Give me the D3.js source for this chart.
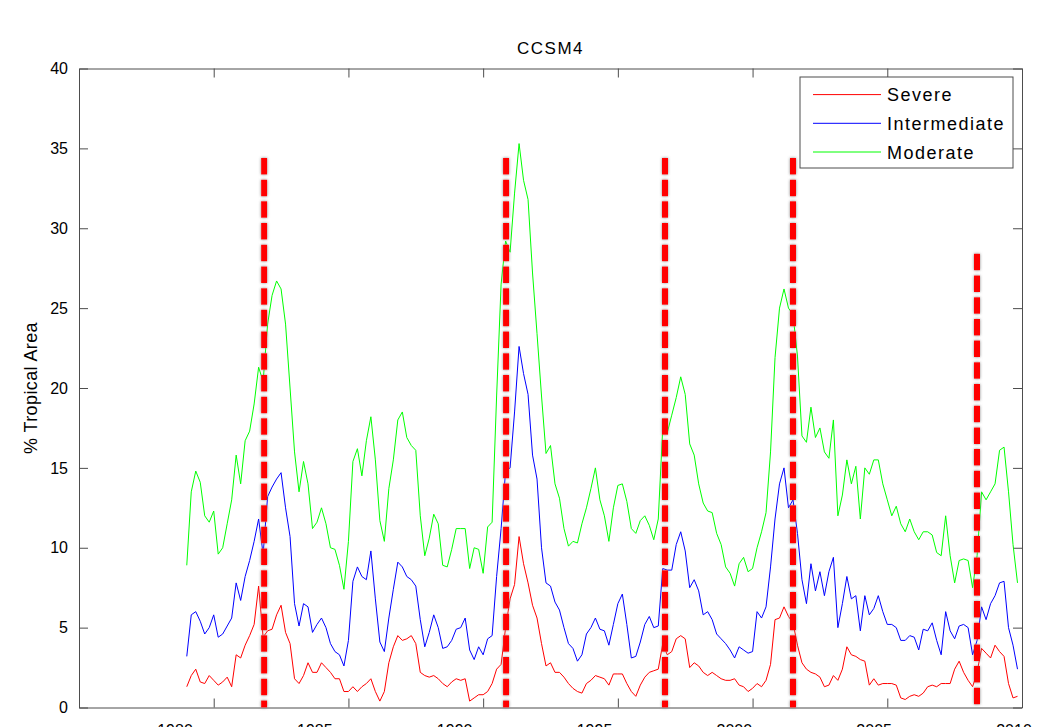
<!DOCTYPE html>
<html>
<head>
<meta charset="utf-8">
<script src="https://cdn.jsdelivr.net/npm/d3@7"></script>
<style>
  body { margin: 0; background: #fff; }
  svg { display: block; font-family: "Liberation Sans", Arial, sans-serif; }
</style>
</head>
<body>
<script>
// samples every 2 months starting Jan 1979
const startYear = 1979
const stepYear = 1 / 6

const severe = [
  1.3, 2.0, 2.4, 1.6, 1.5, 2.0, 1.7, 1.4, 1.6, 1.9,
  1.3, 3.3, 3.1, 3.9, 4.5, 5.2, 7.6, 4.4, 4.8, 4.9,
  5.8, 6.4, 4.7, 4.0, 1.8, 1.5, 2.0, 2.8, 2.2, 2.2,
  2.8, 2.5, 2.2, 1.8, 1.8, 1.0, 1.0, 1.3, 1.0, 1.3,
  1.5, 1.8, 1.0, 0.4, 1.0, 2.8, 3.8, 4.5, 4.2, 4.3,
  4.5, 4.0, 2.2, 2.0, 1.9, 2.0, 1.8, 1.5, 1.3, 1.6,
  1.8, 1.7, 1.8, 0.4, 0.6, 0.8, 0.8, 1.0, 1.5, 2.4,
  2.7, 5.0, 6.8, 7.7, 10.7, 9.0, 7.8, 6.4, 5.6, 4.0,
  2.6, 2.8, 2.2, 2.2, 1.9, 1.5, 1.2, 1.0, 0.9, 1.5,
  1.7, 2.0, 1.9, 1.8, 1.4, 2.1, 2.1, 2.1, 1.5, 1.0,
  0.7, 1.4, 1.9, 2.2, 2.3, 2.4, 4.0, 3.3, 3.5, 4.3,
  4.5, 4.3, 2.5, 2.8, 2.6, 2.2, 2.0, 2.2, 2.0, 1.8,
  1.7, 1.7, 1.8, 1.4, 1.3, 1.0, 1.2, 1.5, 1.3, 1.7,
  2.7, 5.5, 5.6, 6.3, 5.7, 5.3, 3.9, 2.8, 2.4, 2.2,
  2.1, 1.9, 1.3, 1.4, 2.0, 1.7, 2.4, 3.8, 3.3, 3.2,
  3.0, 2.9, 1.4, 1.8, 1.4, 1.5, 1.5, 1.5, 1.4, 0.6,
  0.5, 0.7, 0.8, 0.7, 0.9, 1.3, 1.4, 1.3, 1.5, 1.5,
  1.5, 2.4, 2.9, 2.2, 1.7, 1.3, 2.2, 3.7, 3.4, 3.1,
  3.9, 3.5, 3.2, 1.5, 0.6, 0.7
]

const intermediate = [
  3.2, 5.8, 6.0, 5.4, 4.6, 5.0, 5.8, 4.4, 4.6, 5.1,
  5.6, 7.8, 6.7, 8.2, 9.2, 10.4, 11.8, 9.6, 13.2, 13.8,
  14.3, 14.7, 12.5, 10.7, 6.5, 5.1, 6.5, 6.3, 4.7, 5.2,
  5.6, 5.0, 4.0, 3.5, 3.3, 2.6, 4.2, 7.9, 8.8, 8.2,
  8.0, 9.8, 6.8, 4.1, 3.5, 5.6, 7.4, 9.1, 8.8, 8.2,
  8.0, 7.6, 5.5, 3.8, 4.7, 5.8, 5.0, 3.7, 3.8, 4.2,
  4.9, 5.0, 5.6, 3.6, 3.0, 3.8, 3.3, 4.3, 4.5, 8.2,
  11.2, 14.8, 15.0, 18.5, 22.6, 20.9, 19.6, 15.8, 14.3, 10.0,
  7.8, 7.6, 6.6, 6.1, 5.0, 4.0, 3.7, 2.9, 3.3, 4.6,
  5.0, 5.6, 4.9, 4.8, 3.9, 5.2, 6.5, 7.1, 5.2, 3.1,
  3.2, 4.1, 5.2, 5.7, 5.0, 5.1, 8.7, 8.6, 8.6, 10.2,
  11.0, 9.8, 7.5, 8.0, 7.3, 5.8, 6.0, 5.5, 4.6, 4.3,
  4.0, 3.6, 3.1, 3.8, 3.6, 3.4, 3.5, 6.0, 5.6, 6.3,
  8.8, 11.8, 14.0, 15.0, 12.5, 13.0, 10.9, 8.0, 6.5, 9.0,
  7.3, 8.5, 7.0, 8.5, 9.4, 5.0, 6.5, 8.2, 6.8, 7.0,
  4.8, 7.0, 5.8, 6.2, 7.0, 6.0, 5.2, 5.2, 5.0, 4.2,
  4.2, 4.5, 4.4, 3.6, 4.9, 4.8, 5.3, 4.2, 3.3, 6.0,
  4.8, 4.3, 5.1, 5.2, 5.0, 3.3, 4.2, 6.3, 5.5, 6.5,
  7.0, 7.8, 7.9, 5.0, 3.9, 2.4
]

const moderate = [
  8.9, 13.5, 14.8, 14.1, 12.0, 11.6, 12.3, 9.6, 10.0, 11.5,
  13.0, 15.8, 14.0, 16.7, 17.3, 19.0, 21.3, 20.4, 24.0, 25.8,
  26.7, 26.2, 24.0, 20.0, 16.0, 13.5, 15.4, 14.0, 11.2, 11.6,
  12.5, 11.5, 10.0, 9.9, 8.9, 7.4, 10.4, 15.4, 16.2, 14.5,
  16.7, 18.2, 15.5, 11.7, 10.4, 13.7, 15.5, 18.0, 18.5, 16.9,
  16.4, 16.1, 12.0, 9.5, 10.6, 12.1, 11.5, 8.9, 8.8, 9.9,
  11.2, 11.2, 11.2, 8.7, 10.0, 9.9, 8.4, 11.3, 11.6, 19.5,
  26.5, 29.2, 28.5, 32.2, 35.3, 33.0, 31.8, 27.2, 23.4, 19.5,
  15.9, 16.4, 14.0, 13.1, 11.2, 10.1, 10.4, 10.3, 11.5, 12.5,
  13.7, 15.0, 13.0, 12.0, 10.4, 12.5, 13.9, 14.0, 12.9, 11.2,
  10.9, 11.7, 12.0, 11.4, 10.5, 11.8, 17.5, 17.2, 18.3, 19.4,
  20.7, 19.6, 16.5, 15.8, 14.0, 12.8, 12.3, 12.2, 10.9, 10.2,
  8.8, 8.4, 7.6, 9.0, 9.4, 8.5, 8.7, 10.0, 11.0, 12.2,
  16.0, 21.9, 25.0, 26.2, 25.0, 24.6, 22.0, 17.0, 16.6, 18.8,
  16.9, 17.5, 16.0, 15.6, 18.0, 12.0, 13.3, 15.5, 14.0, 15.1,
  11.8, 15.0, 14.6, 15.5, 15.5, 14.0, 13.0, 12.0, 12.6, 11.5,
  11.0, 11.8, 11.0, 10.5, 11.0, 11.0, 10.8, 9.7, 9.5, 12.0,
  9.5, 7.8, 9.2, 9.3, 9.2, 7.5, 9.5, 13.5, 13.0, 13.5,
  14.0, 16.1, 16.3, 13.5, 10.2, 7.8
]

// red dashed markers
const eventYears = [1981.87, 1990.85, 1996.75, 2001.5, 2008.33]
const eventTops = [34.4, 34.4, 34.4, 34.4, 28.4]

const yTicks = [0, 5, 10, 15, 20, 25, 30, 35, 40]
const xTicks = [1980, 1985, 1990, 1995, 2000, 2005, 2010]

const seriesNames = ["Severe", "Intermediate", "Moderate"]
const seriesColors = ["#ff0000", "#0000ff", "#00ff00"]
const seriesValues = [severe, intermediate, moderate]

let width = 1046
let height = 727
let margin = { top: 68.5, right: 24, bottom: 19.5, left: 79 }

const axisColor = "#4d4d4d"

const x = d3.scaleLinear()
    .domain([1975, 2010])
    .range([margin.left, width - margin.right])

const y = d3.scaleLinear()
    .domain([0, 40])
    .range([height - margin.bottom, margin.top])

// the bottom tick labels sit on a slightly different spacing in the original
const xLabel = d3.scaleLinear()
    .domain([1980, 2010])
    .range([175, 1014])

const svg = d3.select("body").append("svg")
    .attr("width", width)
    .attr("height", height)
    .attr("viewBox", [0, 0, width, height])

// grey halo round the dashed lines (user space, a vertical line has no bbox width)
const shadow = svg.append("defs").append("filter")
    .attr("id", "shade")
    .attr("filterUnits", "userSpaceOnUse")
    .attr("x", 0).attr("y", 0)
    .attr("width", width).attr("height", height)
shadow.append("feDropShadow")
    .attr("dx", 0).attr("dy", 0)
    .attr("stdDeviation", 1.6)
    .attr("flood-color", "#808080")
    .attr("flood-opacity", 0.9)

// box with inward ticks on all four sides
const styleAxis = g => {
    g.select(".domain").attr("stroke", axisColor)
    g.selectAll(".tick line").attr("stroke", axisColor)
    g.selectAll(".tick text")
        .attr("fill", "#000")
        .attr("font-family", null)
        .style("font-size", "16px")
}

svg.append("g")
    .attr("transform", `translate(${margin.left},0)`)
    .call(d3.axisLeft(y).tickValues(yTicks).tickSizeInner(-9).tickSizeOuter(0).tickPadding(11))
    .call(styleAxis)

svg.append("g")
    .attr("transform", `translate(${width - margin.right},0)`)
    .call(d3.axisRight(y).tickValues(yTicks).tickSizeInner(-9).tickSizeOuter(0).tickFormat(""))
    .call(styleAxis)

svg.append("g")
    .attr("transform", `translate(0,${margin.top})`)
    .call(d3.axisTop(x).tickValues(xTicks).tickSizeInner(-9).tickSizeOuter(0).tickFormat(""))
    .call(styleAxis)

svg.append("g")
    .attr("transform", `translate(0,${height - margin.bottom})`)
    .call(d3.axisBottom(x).tickValues(xTicks).tickSizeInner(-9).tickSizeOuter(0).tickFormat(""))
    .call(styleAxis)

// year labels, cut by the bottom edge as in the reference
svg.append("g")
    .selectAll("text")
    .data(xTicks)
    .join("text")
    .attr("x", d => xLabel(d))
    .attr("y", 736)
    .attr("text-anchor", "middle")
    .style("font-size", "16px")
    .text(d => d)

// series
const line = d3.line()
    .x((d, i) => x(startYear + i * stepYear))
    .y(d => y(d))

svg.append("g")
    .attr("fill", "none")
    .attr("stroke-width", 1)
    .selectAll("path")
    .data(seriesValues)
    .join("path")
    .attr("stroke", (d, i) => seriesColors[i])
    .attr("d", d => line(d))

// red dashed event lines
svg.append("g")
    .attr("filter", "url(#shade)")
    .selectAll("line")
    .data(eventYears)
    .join("line")
    .attr("x1", d => x(d))
    .attr("x2", d => x(d))
    .attr("y1", (d, i) => y(eventTops[i]))
    .attr("y2", y(0))
    .attr("stroke", "#ff0000")
    .attr("stroke-width", 6)
    .attr("stroke-dasharray", "16.5 5.2")

// title and axis label
svg.append("text")
    .attr("x", (margin.left + width - margin.right) / 2)
    .attr("y", 54)
    .attr("text-anchor", "middle")
    .style("font-size", "17px")
    .style("letter-spacing", "1.5px")
    .text("CCSM4")

svg.append("text")
    .attr("transform", `translate(37,${(margin.top + height - margin.bottom) / 2}) rotate(-90)`)
    .attr("text-anchor", "middle")
    .style("font-size", "18px")
    .style("letter-spacing", "0.4px")
    .text("% Tropical Area")

// legend
const legend = svg.append("g").attr("transform", "translate(800,77)")
legend.append("rect")
    .attr("width", 213)
    .attr("height", 91)
    .attr("fill", "#fff")
    .attr("stroke", axisColor)

const item = legend.selectAll("g.item")
    .data(seriesNames)
    .join("g")
    .attr("class", "item")
    .attr("transform", (d, i) => `translate(0,${17.6 + i * 28.7})`)

item.append("line")
    .attr("x1", 13).attr("x2", 81)
    .attr("stroke", (d, i) => seriesColors[i])

item.append("text")
    .attr("x", 87)
    .attr("y", 6.5)
    .style("font-size", "18px")
    .style("letter-spacing", "1.5px")
    .text(d => d)
</script>
</body>
</html>
